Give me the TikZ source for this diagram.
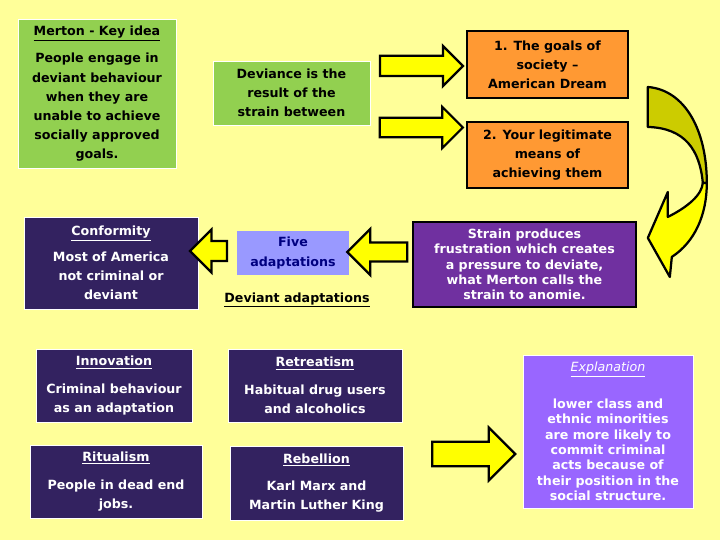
\documentclass[tikz,border=0pt]{standalone}
\usepackage{fontspec}
\setmainfont{DejaVu Sans}
\usetikzlibrary{shapes.arrows,positioning}
\definecolor{bgyellow}{RGB}{255,255,153}
\definecolor{boxgreen}{RGB}{146,208,80}
\definecolor{boxorange}{RGB}{255,153,51}
\definecolor{boxnavy}{RGB}{51,34,96}
\definecolor{boxpurple}{RGB}{112,48,160}
\definecolor{boxblue}{RGB}{153,153,255}
\definecolor{boxlilac}{RGB}{153,102,255}
\definecolor{arrowyellow}{RGB}{255,255,0}
\definecolor{arrowolive}{RGB}{204,204,0}
\definecolor{textnavy}{RGB}{0,0,128}
\tikzset{
  card/.style={rectangle,align=center,inner sep=0pt,
               font=\fontsize{9}{13.6}\selectfont\bfseries},
  greencard/.style={card,fill=boxgreen,draw=white,line width=0.6pt,text=black},
  orangecard/.style={card,fill=boxorange,draw=black,line width=2pt,text=black},
  navycard/.style={card,fill=boxnavy,draw=white,line width=0.6pt,text=white},
  blockarrow/.style={single arrow,draw=black,line width=1.6pt,fill=arrowyellow,
                     inner xsep=0pt,single arrow head indent=0pt},
}
\begin{document}
\begin{tikzpicture}
  \fill[bgyellow] (0,0) rectangle (18,13.5);
  \node[greencard,minimum width=3.95cm,minimum height=3.725cm]
        (merton) at (2.425,11.1625)
        {\underline{Merton - Key idea}\\[6pt]
         People engage in\\ deviant behaviour\\ when they are\\
         unable to achieve\\ socially approved\\ goals.};
  \node[greencard,minimum width=3.925cm,minimum height=1.6cm]
        (deviance) at (7.2875,11.175)
        {Deviance is the\\ result of the\\ strain between};
  \node[orangecard,minimum width=4.025cm,minimum height=1.675cm]
        (goals) at (13.6875,11.8875)
        {1. The goals of\\ society --\\ American Dream};
  \node[orangecard,minimum width=4.025cm,minimum height=1.65cm]
        (means) at (13.6875,9.625)
        {2. Your legitimate\\ means of\\ achieving them};
  \node[blockarrow,minimum height=2.075cm,inner ysep=0.225cm,
        single arrow head extend=0.25cm] (goalsarrow) at (10.4125,11.85) {};
  \node[blockarrow,minimum height=2.075cm,inner ysep=0.215cm,
        single arrow head extend=0.27cm] (meansarrow) at (10.4125,10.3125) {};
  % curved arrow from the means down to the strain
  \begin{scope}[shift={(0,13.5)},x=0.025cm,y=-0.025cm,line width=1.6pt,
                line join=round]
    \filldraw[fill=arrowolive] (648,87) .. controls (685,90) and (707,130) .. (707,183)
      -- (703,183) .. controls (700,150) and (685,128) .. (648,127) -- cycle;
    \filldraw[fill=arrowyellow] (707,183) .. controls (707,215) and (695,242) .. (672,257)
      -- (670,277) -- (648,238) -- (668,192) -- (668,217)
      .. controls (688,207) and (702,195) .. (703,183) -- cycle;
  \end{scope}
  \node[card,fill=boxpurple,draw=black,line width=0.8pt,text=white,
        minimum width=5.575cm,minimum height=2.125cm,
        font=\fontsize{9}{10.9}\selectfont\bfseries]
        (strain) at (13.1125,6.8875)
        {Strain produces\\ frustration which creates\\ a pressure to deviate,\\
         what Merton calls the\\ strain to anomie.};
  \node[card,fill=boxblue,text=textnavy,minimum width=2.8cm,minimum height=1.1cm]
        (five) at (7.325,7.175) {Five\\ adaptations};
  \node[font=\fontsize{9}{13.6}\selectfont\bfseries,text=black]
        (devlabel) at (7.425,6.0) {\underline{Deviant adaptations}};
  \node[blockarrow,minimum height=1.5cm,inner ysep=0.21cm,
        single arrow head extend=0.34cm,shape border rotate=180]
        (adaptarrow) at (9.55,7.2) {};
  \node[navycard,minimum width=4.35cm,minimum height=2.3cm]
        (conformity) at (2.775,6.925)
        {\underline{Conformity}\\[5pt] Most of America\\ not criminal or\\ deviant};
  \node[blockarrow,minimum height=0.925cm,inner ysep=0.22cm,
        single arrow head extend=0.29cm,shape border rotate=180]
        (conformarrow) at (5.3375,7.225) {};
  \node[navycard,minimum width=3.9cm,minimum height=1.825cm]
        (innovation) at (2.85,3.8625)
        {\underline{Innovation}\\[6pt] Criminal behaviour\\ as an adaptation};
  \node[navycard,minimum width=4.35cm,minimum height=1.825cm]
        (retreatism) at (7.875,3.8625)
        {\underline{Retreatism}\\[6pt] Habitual drug users\\ and alcoholics};
  \node[navycard,minimum width=4.3cm,minimum height=1.825cm]
        (ritualism) at (2.9,1.4625)
        {\underline{Ritualism}\\[6pt] People in dead end\\ jobs.};
  \node[navycard,minimum width=4.325cm,minimum height=1.85cm]
        (rebellion) at (7.9125,1.425)
        {\underline{Rebellion}\\[6pt] Karl Marx and\\ Martin Luther King};
  \node[blockarrow,minimum height=2.075cm,inner ysep=0.28cm,
        single arrow head extend=0.35cm] (explainarrow) at (11.6875,2.15) {};
  \node[card,fill=boxlilac,draw=white,line width=0.6pt,text=white,
        minimum width=4.25cm,minimum height=3.825cm,
        font=\fontsize{9}{11}\selectfont\bfseries]
        (explanation) at (15.2,2.7125)
        {{\mdseries\itshape\underline{Explanation}}\\[15pt]
         lower class and\\ ethnic minorities\\ are more likely to\\
         commit criminal\\ acts because of\\ their position in the\\ social structure.};
\end{tikzpicture}
\end{document}
